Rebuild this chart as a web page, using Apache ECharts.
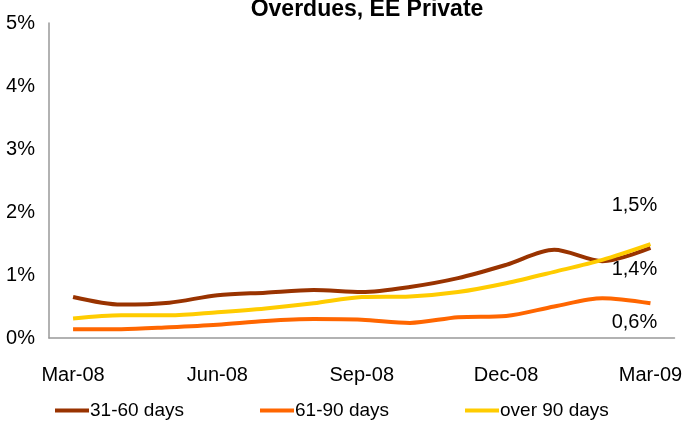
<!DOCTYPE html>
<html>
<head>
<meta charset="utf-8">
<script src="https://cdn.jsdelivr.net/npm/echarts@6/dist/echarts.min.js"></script>
<style>
  html, body { margin: 0; padding: 0; background: #fff; }
  #chart { width: 685px; height: 430px; }
</style>
</head>
<body>
<div id="chart"></div>
<script>
  // months, one point per month
  var months = ['Mar-08', 'Apr-08', 'May-08', 'Jun-08', 'Jul-08', 'Aug-08', 'Sep-08',
    'Oct-08', 'Nov-08', 'Dec-08', 'Jan-09', 'Feb-09', 'Mar-09'];
  var days31to60 = [0.65, 0.53, 0.56, 0.68, 0.72, 0.76, 0.73, 0.81, 0.95, 1.16, 1.40, 1.22, 1.43];
  var days61to90 = [0.14, 0.14, 0.17, 0.21, 0.27, 0.30, 0.29, 0.24, 0.33, 0.35, 0.50, 0.63, 0.55];
  var over90 = [0.31, 0.36, 0.36, 0.41, 0.47, 0.55, 0.65, 0.66, 0.73, 0.87, 1.05, 1.24, 1.49];
  var endLabels = ['1,4%', '0,6%', '1,5%'];
  var yTicks = [0, 1, 2, 3, 4, 5];

  var font = '"Liberation Sans", Arial, sans-serif';

  // label only on the last point
  function withEndLabel(values, text, offset) {
    return values.map(function (v, i) {
      if (i !== values.length - 1) return v;
      return {
        value: v,
        label: {
          show: true,
          formatter: text,
          position: 'inside',
          offset: offset,
          color: '#000',
          fontSize: 20,
          fontFamily: font
        }
      };
    });
  }

  var chart = echarts.init(document.getElementById('chart'));
  var option = {
    animation: false,
    title: {
      text: 'Overdues, EE Private',
      left: 362,
      textAlign: 'center',
      top: -7,
      textStyle: { fontFamily: font, fontSize: 23, fontWeight: 'bold', color: '#000' }
    },
    legend: {
      bottom: 5,
      left: 50,
      itemWidth: 34,
      itemHeight: 4,
      itemGap: 76,
      icon: 'rect',
      textStyle: { fontFamily: font, fontSize: 19, color: '#000', padding: [0, 0, 0, -4] },
      data: ['31-60 days', '61-90 days', 'over 90 days']
    },
    grid: { left: 49, right: 7, top: 23, bottom: 92 },
    xAxis: {
      type: 'category',
      data: months,
      boundaryGap: true,
      axisLine: { lineStyle: { color: '#999', width: 1.5 } },
      axisTick: { show: false },
      axisLabel: { interval: 2, margin: 27, fontFamily: font, fontSize: 20, color: '#000' }
    },
    yAxis: {
      type: 'value',
      min: yTicks[0],
      max: yTicks[yTicks.length - 1],
      interval: 1,
      axisLine: { show: true, lineStyle: { color: '#999', width: 1.5 } },
      axisTick: { show: false },
      splitLine: { show: false },
      axisLabel: { margin: 14, fontFamily: font, fontSize: 20, color: '#000', formatter: '{value}%' }
    },
    series: [
      {
        name: '31-60 days',
        type: 'line',
        smooth: 0.3,
        symbol: 'circle',
        symbolSize: 0,
        showSymbol: true,
        data: withEndLabel(days31to60, endLabels[0], [-16, 22]),
        itemStyle: { color: '#993300' },
        lineStyle: { color: '#993300', width: 4 }
      },
      {
        name: '61-90 days',
        type: 'line',
        smooth: 0.3,
        symbol: 'circle',
        symbolSize: 0,
        showSymbol: true,
        data: withEndLabel(days61to90, endLabels[1], [-16, 19]),
        itemStyle: { color: '#FF6600' },
        lineStyle: { color: '#FF6600', width: 4 }
      },
      {
        name: 'over 90 days',
        type: 'line',
        smooth: 0.3,
        symbol: 'circle',
        symbolSize: 0,
        showSymbol: true,
        data: withEndLabel(over90, endLabels[2], [-16, -39]),
        itemStyle: { color: '#FFCC00' },
        lineStyle: { color: '#FFCC00', width: 4 }
      }
    ]
  };
  chart.setOption(option);
</script>
</body>
</html>
